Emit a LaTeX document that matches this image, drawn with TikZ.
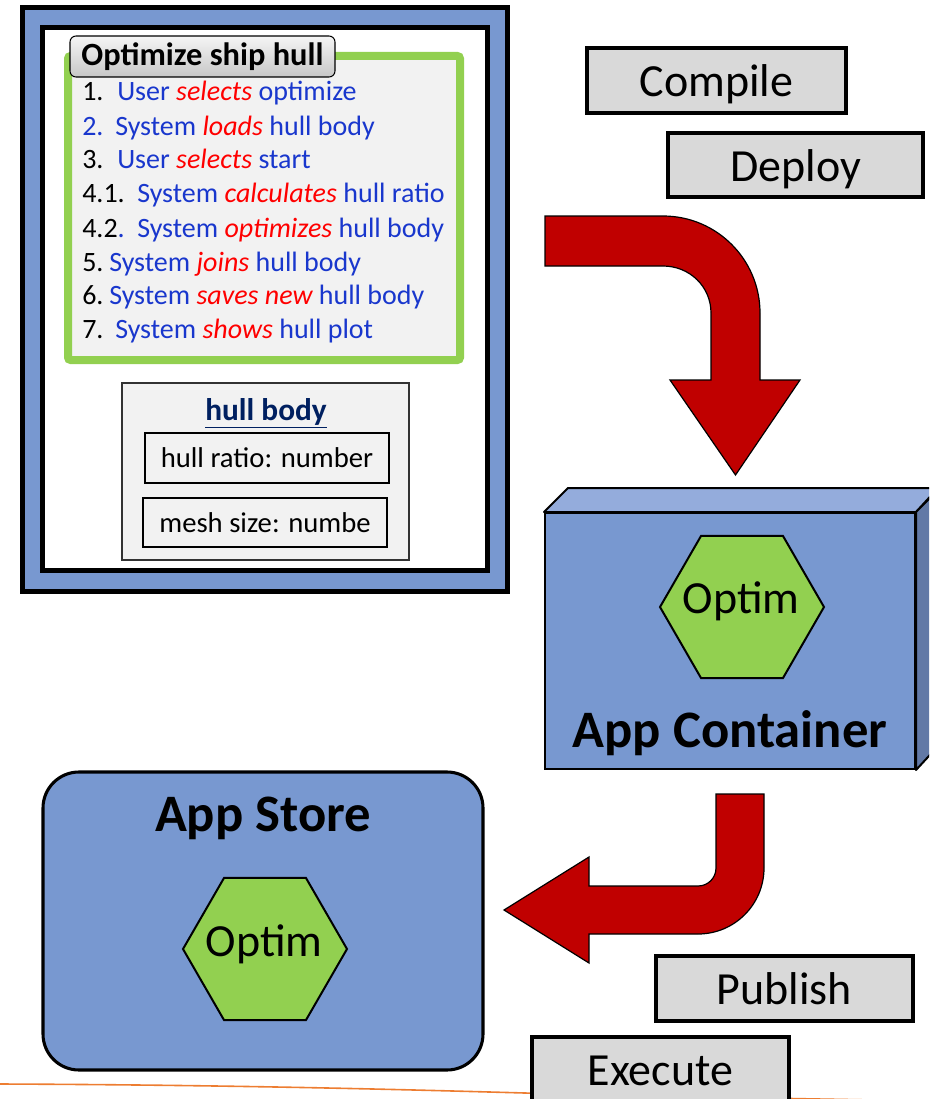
\documentclass[tikz,border=0pt]{standalone}
\usepackage{fontspec}
\setmainfont{Carlito}
\usetikzlibrary{shapes.geometric}

\definecolor{frameblue}{RGB}{120,152,208}
\definecolor{cubetop}{RGB}{148,172,220}
\definecolor{cubeside}{RGB}{98,121,166}
\definecolor{hexgreen}{RGB}{146,208,80}
\definecolor{framegreen}{RGB}{146,208,80}
\definecolor{paper}{RGB}{242,242,242}
\definecolor{boxgray}{RGB}{217,217,217}
\definecolor{arrowred}{RGB}{192,0,0}
\definecolor{stepblue}{RGB}{25,55,205}
\definecolor{stepred}{RGB}{255,0,0}
\definecolor{navy}{RGB}{0,32,96}
\definecolor{rule}{RGB}{237,125,49}

\tikzset{
  graybox/.style={draw=black, line width=2.6pt, fill=boxgray, inner sep=0pt,
    text height=30pt, text depth=6pt,
    font=\fontsize{34.5}{40}\selectfont},
  hexa/.style={regular polygon, regular polygon sides=6, minimum size=123pt,
    draw=black, line width=1.5pt, fill=hexgreen, inner sep=0pt},
  hexlabel/.style={font=\fontsize{34.5}{40}\selectfont, inner sep=0pt},
  field/.style={draw=black, line width=2.2pt, fill=paper, inner sep=0pt,
    font=\fontsize{21.5}{25}\selectfont},
  stepnum/.style={anchor=base west, inner sep=0pt, font=\fontsize{21}{25}\selectfont},
  steptext/.style={anchor=base west, inner sep=0pt, font=\fontsize{21}{25}\selectfont, text=stepblue},
  bigtitle/.style={font=\fontsize{39.5}{45}\selectfont\bfseries, inner sep=0pt},
  redarrow/.style={fill=arrowred, draw=black, line width=0.9pt, line join=miter},
  cubeface/.style={draw=black, line width=1.5pt, line join=round},
}
\newcommand{\act}[1]{\textcolor{stepred}{\itshape #1}}

\begin{document}
\begin{tikzpicture}[x=0.75pt, y=-0.75pt]
\useasboundingbox (0,0) rectangle (929,1099);
\clip (0,0) rectangle (929,1099);

% baseline rule along the bottom
\draw[rule, line width=1.2pt] (0,1084) .. controls (250,1085) and (420,1090) .. (560,1094)
  .. controls (700,1097) and (820,1099) .. (929,1101);

% ---------- use case panel ----------
\node[draw=black, line width=3.75pt, fill=frameblue, minimum width=364.1pt,
  minimum height=438pt, inner sep=0pt] (frame) at (265.25,299.5) {};
\node[draw=black, line width=3.75pt, fill=white, minimum width=333.4pt,
  minimum height=407.6pt, inner sep=0pt] (sheet) at (264.75,299.25) {};
\node[draw=framegreen, line width=6pt, fill=paper, rounded corners=2pt,
  minimum width=294pt, minimum height=228pt, inner sep=0pt] (flow) at (264,208) {};
\node[draw=black, line width=0.8pt, rounded corners=4.5pt, top color=white!96!black,
  bottom color=black!22, minimum width=198.75pt, minimum height=30.75pt, inner sep=0pt,
  font=\fontsize{24.3}{28}\selectfont\bfseries] (tab) at (202.5,56.5) {Optimize ship hull};

\node[stepnum] (n1) at (82,100) {1.};
\node[steptext] (s1) at (117,100) {User \act{selects} optimize};
\node[stepnum, text=stepblue] (n2) at (82,135) {2.};
\node[steptext] (s2) at (115,135) {System \act{loads} hull body};
\node[stepnum] (n3) at (82,168) {3.};
\node[steptext] (s3) at (117,168) {User \act{selects} start};
\node[stepnum] (n41) at (82,202) {4.1.};
\node[steptext] (s41) at (137,202) {System \act{calculates} hull ratio};
\node[stepnum] (n42) at (82,237) {4.2\textcolor{stepblue}{.}};
\node[steptext] (s42) at (137,237) {System \act{optimizes} hull body};
\node[stepnum] (n5) at (82,271) {5.};
\node[steptext] (s5) at (109,271) {System \act{joins} hull body};
\node[stepnum] (n6) at (82,304) {6.};
\node[steptext] (s6) at (109,304) {System \act{saves new} hull body};
\node[stepnum] (n7) at (82,338) {7.};
\node[steptext] (s7) at (115,338) {System \act{shows} hull plot};

% data entity
\node[draw=black!80, line width=1.9pt, fill=paper, minimum width=215.25pt,
  minimum height=132.75pt, inner sep=0pt] (entity) at (265.5,471.5) {};
\node[anchor=base, inner sep=0pt, text=navy, font=\fontsize{23.5}{27}\selectfont\bfseries]
  (etitle) at (266,420) {\underline{hull body}};
\node[field, minimum width=183pt, minimum height=37.5pt] (f1) at (267,458) {hull ratio: number};
\node[field, minimum width=183pt, minimum height=36.75pt] (f2) at (265,522.5) {mesh size: numbe};

% ---------- step labels ----------
\node[graybox, minimum width=194.25pt, minimum height=48.75pt] (compile) at (716.5,80.5) {Compile};
\node[graybox, minimum width=191.25pt, minimum height=48pt] (deploy) at (795.5,165) {Deploy};

% ---------- bent arrow: deploy into container ----------
\draw[redarrow] (545,216) -- (663,216) .. controls (716.6,216) and (760,259.4) .. (760,313)
  -- (760,380) -- (800,380) -- (735.5,475) -- (670,380) -- (711,380) -- (711,313)
  .. controls (711,286.5) and (689.5,266) .. (663,266) -- (545,266) -- cycle;

% ---------- app container cube ----------
\node[draw=black, line width=1.5pt, fill=frameblue, minimum width=277.5pt,
  minimum height=192pt, inner sep=0pt] (cont) at (730,641) {};
\draw[cubeface, fill=cubetop] (cont.north west) -- ++(24,-24) -- ++(370,0)
  -- (cont.north east) -- cycle;
\draw[cubeface, fill=cubeside] (cont.north east) -- ++(24,-24) -- ++(0,256)
  -- (cont.south east) -- cycle;
\node[hexa] (hexc) at (742,607) {};
\node[hexlabel] (optc) at (741,601) {Optim};
\node[bigtitle] (ctitle) at (730,733) {App Container};

% ---------- bent arrow: container into store ----------
\draw[redarrow] (716,794) -- (764,794) -- (764,868)
  .. controls (764,904.5) and (734.5,934) .. (698,934) -- (589,934) -- (589,963)
  -- (504,910) -- (589,857) -- (589,886) -- (698,886)
  .. controls (708,886) and (716,878) .. (716,868) -- cycle;

% ---------- app store ----------
\node[draw=black, line width=2.3pt, fill=frameblue, rounded corners=27pt,
  minimum width=330pt, minimum height=223.5pt, inner sep=0pt] (store) at (263,921) {};
\node[bigtitle] (stitle) at (263,818) {App Store};
\node[hexa] (hexs) at (265,949) {};
\node[hexlabel] (opts) at (264,944) {Optim};

\node[graybox, minimum width=192.75pt, minimum height=48.75pt] (publish) at (784.5,988.5) {Publish};
\node[graybox, minimum width=192.75pt, minimum height=48.75pt] (execute) at (660.5,1069.5) {Execute};
\end{tikzpicture}
\end{document}
